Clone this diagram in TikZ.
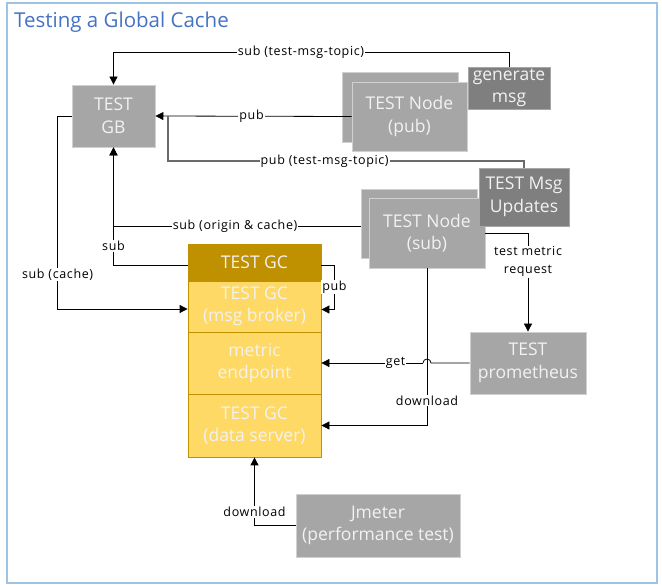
\documentclass[tikz,border=0pt]{standalone}
\usepackage{fontspec}
\setmainfont{Open Sans}
\newfontfamily\lblfont[LetterSpace=5]{Open Sans}
\usetikzlibrary{arrows.meta}
\definecolor{frameblue}{HTML}{9DC3E6}
\definecolor{titleblue}{HTML}{4472C4}
\definecolor{gfill}{HTML}{A6A6A6}
\definecolor{gborder}{HTML}{D0D0D0}
\definecolor{dfill}{HTML}{7F7F7F}
\definecolor{dborder}{HTML}{A6A6A6}
\definecolor{gold}{HTML}{BF9000}
\definecolor{yel}{HTML}{FFD966}
\definecolor{ntext}{HTML}{F2F2F2}
\definecolor{lgray}{HTML}{6A6A6A}
\tikzset{
  x=1pt, y=-1pt,
  box/.style={draw, line width=0.8pt, inner sep=0pt, align=center, text=ntext,
    font=\fontsize{17.5}{22.5}\selectfont},
  gbox/.style={box, fill=gfill, draw=gborder},
  dbox/.style={box, fill=dfill, draw=dborder},
  hbox/.style={box, fill=gold, draw=gold},
  ybox/.style={box, fill=yel, draw=gold},
  lbl/.style={fill=white, inner sep=1pt, text=black, align=center,
    font=\lblfont\fontsize{12.5}{18}\selectfont},
  arr/.style={draw=black, line width=0.8pt, -{Triangle[length=8pt,width=8pt]}},
  conn/.style={draw=black, line width=0.8pt},
}
\begin{document}
\begin{tikzpicture}
\useasboundingbox (0,0) rectangle (662,585);
\draw[frameblue, line width=2pt] (7,3) rectangle (657,583);
\node[anchor=base west, text=titleblue, inner sep=0pt, font=\fontsize{20.5}{24}\selectfont] (title) at (14,28) {Testing a Global Cache};

% boxes
\node[gbox, minimum width=83pt, minimum height=62pt] (gb) at (113.5,116) {TEST\\GB};
\node[gbox, minimum width=116pt, minimum height=70pt] (pubb) at (400,107) {};
\node[gbox, minimum width=115pt, minimum height=69pt] (pubf) at (409.5,116.5) {TEST Node\\(pub)};
\node[dbox, minimum width=82pt, minimum height=42pt] (gen) at (509,88) {generate\\msg};
\node[gbox, minimum width=116pt, minimum height=69pt] (subb) at (419,223.5) {};
\node[gbox, minimum width=116pt, minimum height=70pt] (subf) at (427,233) {TEST Node\\(sub)};
\node[dbox, minimum width=90pt, minimum height=58pt] (upd) at (524,197) {TEST Msg\\Updates};
\node[hbox, minimum width=133pt, minimum height=37pt] (gch) at (254.5,262.5) {TEST GC};
\node[ybox, minimum width=133pt, minimum height=51pt] (brk) at (254.5,306.5) {TEST GC\\(msg broker)};
\node[ybox, minimum width=133pt, minimum height=62pt] (met) at (254.5,363) {metric\\endpoint};
\node[ybox, minimum width=133pt, minimum height=63pt] (ds) at (254.5,425.5) {TEST GC\\(data server)};
\node[gbox, minimum width=116pt, minimum height=62pt] (prom) at (528,363) {TEST\\prometheus};
\node[gbox, minimum width=164pt, minimum height=63pt] (jm) at (378,525.5) {Jmeter\\(performance test)};

% connectors
\draw[arr] (gen.north) -- ([yshift=14pt]gen.north) -| node[lbl, pos=0.263] {sub (test-msg-topic)} (gb.north);
\coordinate (j1) at (168,116.5);
\draw[arr] (pubf.west) -- node[lbl, pos=0.51] {pub} (gb.east);
\draw[draw=lgray, line width=1.1pt] (upd.north) |- node[lbl, pos=0.78] {pub (test-msg-topic)} ([yshift=-44.5pt]j1) -- (j1);
\draw[arr] ([yshift=-2.5pt]subb.west) -| node[lbl, pos=0.254] {sub (origin \& cache)} (gb.south);
\draw[arr] ([yshift=-2.5pt]gch.west) -| node[lbl, pos=0.58] {sub} (gb.south);
\draw[arr] (gb.west) -- ++(-14pt,0) |- node[lbl, pos=0.41] {sub (cache)} ([yshift=-2.5pt]brk.west);
\draw[arr] ([yshift=-2.5pt]gch.east) -- ++(13pt,0) |- node[lbl, pos=0.25] {pub} ([yshift=-3pt]brk.east);
\draw[arr] (subf.east) -| node[lbl, pos=0.645] {test metric\\request} (prom.north);
\coordinate (hopc) at (subf.south |- met.east);
\draw[conn] (prom.west) -- ([xshift=4pt]hopc) arc[start angle=0, end angle=180, radius=4pt];
\draw[arr] ([xshift=-4pt]hopc) -- node[lbl, pos=0.27] {get} (met.east);
\draw[arr] (subf.south) |- node[lbl, pos=0.42] {download} (ds.east);
\draw[arr] (jm.west) -| node[lbl, pos=0.6] {download} (ds.south);
\end{tikzpicture}
\end{document}
